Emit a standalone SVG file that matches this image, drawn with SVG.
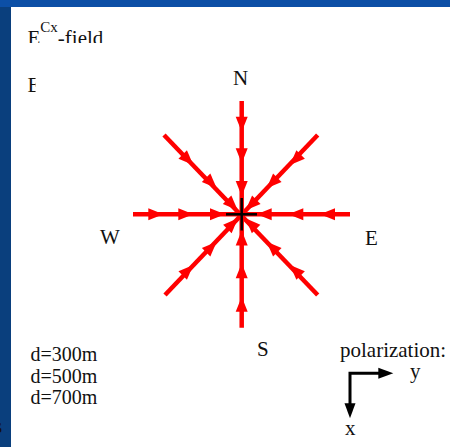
<svg xmlns="http://www.w3.org/2000/svg" width="450" height="447" viewBox="0 0 450 447">
  <style>
    .t { font-family: "Liberation Serif", "Times New Roman", serif; font-size: 21px; fill: #111; }
    .s { font-size: 20px; }
    .red { stroke: #ff0000; stroke-width: 4.5; fill: none; stroke-linecap: butt; }
    .blk { stroke: #000; stroke-width: 2.5; fill: none; }
    .pol { stroke: #000; stroke-width: 3; fill: none; stroke-linejoin: miter; }
  </style>
  <defs>
    <path id="ah" d="M0,0 L-15,-6 L-15,6 Z" fill="#ff0000"/>
    <path id="bh" d="M0,0 L-15,-5.5 L-15,5.5 Z" fill="#000"/>
    <clipPath id="clipTitle"><rect x="12" y="7" width="200" height="36"/></clipPath>
    <clipPath id="clipSecond"><rect x="12" y="60" width="23.5" height="40"/></clipPath>
  </defs>

  <rect x="0" y="0" width="450" height="447" fill="#ffffff"/>

  <!-- slide frame -->
  <g id="frame">
    <rect x="0" y="0" width="11" height="447" fill="#0a3f7d"/>
    <rect x="0" y="0" width="450" height="7" fill="#0c4fa6"/>
  </g>

  <!-- clipped title text -->
  <g id="title" clip-path="url(#clipTitle)">
    <text class="t" x="27.5" y="44.5">E<tspan font-size="15" dy="-12.5">Cx</tspan><tspan dy="12.5">-field</tspan></text>
  </g>
  <g id="second-line" clip-path="url(#clipSecond)">
    <text class="t" x="27.5" y="91.5">E</text>
  </g>
  <g id="fragment">
    <text class="t" x="-6" y="433">s</text>
  </g>

  <!-- compass labels -->
  <g id="label-N"><text class="t" x="233" y="85">N</text></g>
  <g id="label-W"><text class="t" x="100" y="244">W</text></g>
  <g id="label-E"><text class="t" x="365" y="245">E</text></g>
  <g id="label-S"><text class="t" x="257" y="356">S</text></g>

  <!-- red field arrows -->
  <g id="connectors">
    <line class="red" x1="241.7" y1="101" x2="241.7" y2="327.7"/>
    <line class="red" x1="133" y1="214.3" x2="350" y2="214.3"/>
    <line class="red" x1="164" y1="135" x2="317.7" y2="295"/>
    <line class="red" x1="317.7" y1="135" x2="165" y2="295"/>
    <line class="blk" x1="226" y1="214.3" x2="257" y2="214.3"/>
    <line class="blk" x1="241.7" y1="198" x2="241.7" y2="230.5"/>

    <!-- N, pointing down -->
    <use href="#ah" transform="translate(241.7,131.7) rotate(90)"/>
    <use href="#ah" transform="translate(241.7,163.3) rotate(90)"/>
    <use href="#ah" transform="translate(241.7,196) rotate(90)"/>
    <!-- S, pointing up -->
    <use href="#ah" transform="translate(241.7,296.7) rotate(-90)"/>
    <use href="#ah" transform="translate(241.7,263.3) rotate(-90)"/>
    <use href="#ah" transform="translate(241.7,230.5) rotate(-90)"/>
    <!-- W, pointing right -->
    <use href="#ah" transform="translate(163.3,214.3)"/>
    <use href="#ah" transform="translate(193.3,214.3)"/>
    <use href="#ah" transform="translate(225,214.3)"/>
    <!-- E, pointing left -->
    <use href="#ah" transform="translate(320,214.3) rotate(180)"/>
    <use href="#ah" transform="translate(288.3,214.3) rotate(180)"/>
    <use href="#ah" transform="translate(256.7,214.3) rotate(180)"/>
    <!-- NW -->
    <use href="#ah" transform="translate(193.3,165) rotate(45)"/>
    <use href="#ah" transform="translate(216.7,188.3) rotate(45)"/>
    <use href="#ah" transform="translate(237.7,210.3) rotate(45)"/>
    <!-- NE -->
    <use href="#ah" transform="translate(290,165) rotate(135)"/>
    <use href="#ah" transform="translate(266.7,188.3) rotate(135)"/>
    <use href="#ah" transform="translate(245.7,210.3) rotate(135)"/>
    <!-- SW -->
    <use href="#ah" transform="translate(193.3,265) rotate(-45)"/>
    <use href="#ah" transform="translate(216.7,241.7) rotate(-45)"/>
    <use href="#ah" transform="translate(238,218.3) rotate(-45)"/>
    <!-- SE -->
    <use href="#ah" transform="translate(290,265) rotate(-135)"/>
    <use href="#ah" transform="translate(266.7,241.7) rotate(-135)"/>
    <use href="#ah" transform="translate(245.5,218.3) rotate(-135)"/>
  </g>

  <!-- distances legend -->
  <g id="legend">
    <text class="t s" x="30.5" y="361">d=300m</text>
    <text class="t s" x="30.5" y="382.5">d=500m</text>
    <text class="t s" x="30.5" y="404">d=700m</text>
  </g>

  <!-- polarization -->
  <g id="polarization">
    <text class="t" x="340" y="356.5">polarization:</text>
    <polyline class="pol" points="380,373.3 350,373.3 350,405"/>
    <use href="#bh" transform="translate(393.3,373.3)"/>
    <use href="#bh" transform="translate(350,418.3) rotate(90)"/>
    <text class="t" x="410" y="377.5">y</text>
    <text class="t" x="345" y="434.5">x</text>
  </g>
</svg>
